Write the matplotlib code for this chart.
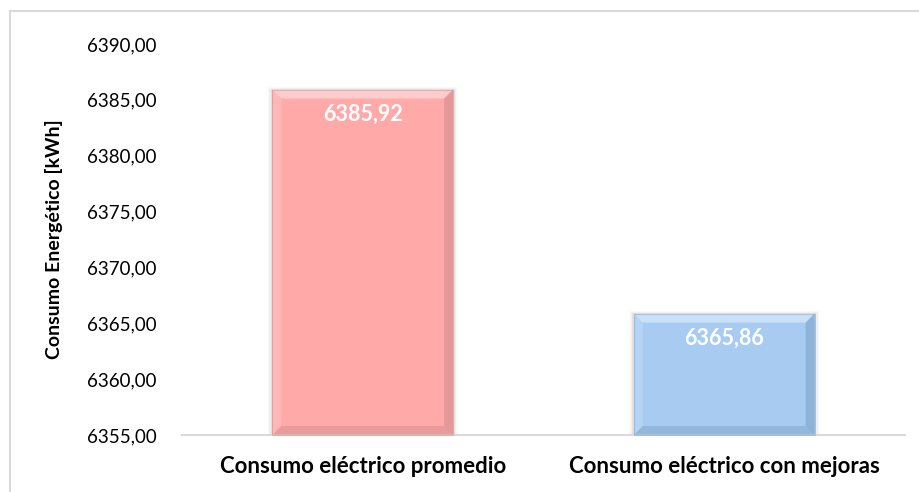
import matplotlib
matplotlib.use("Agg")
import matplotlib.pyplot as plt
from matplotlib.patches import Polygon, Rectangle
from matplotlib.transforms import IdentityTransform

categories = ["Consumo eléctrico promedio", "Consumo eléctrico con mejoras"]
values = [6385.92, 6365.86]
value_labels = ["6385,92", "6365,86"]
y_ticks = [6355, 6360, 6365, 6370, 6375, 6380, 6385, 6390]
y_tick_labels = ["6355,00", "6360,00", "6365,00", "6370,00", "6375,00", "6380,00", "6385,00", "6390,00"]
y_label = "Consumo Energético [kWh]"

bar_face = ["#FFA9A9", "#A7CBF1"]
bar_light = ["#FFD3D3", "#D0E4F9"]
bar_dark = ["#D08A8A", "#7C9FC6"]

plt.rcParams["font.family"] = ["Lato", "DejaVu Sans"]

fig = plt.figure(figsize=(9.2, 4.92), dpi=100)
ax = fig.add_axes([0.1978, 0.1159, 0.7859, 0.7947])

x = list(range(len(categories)))
bars = ax.bar(x, values, width=0.5, color=bar_face, zorder=3, linewidth=0)
ax.set_xlim(-0.5, len(categories) - 0.5)
ax.set_ylim(6355, 6390)

ax.set_yticks(y_ticks)
ax.set_yticklabels(y_tick_labels, fontsize=13.5, color="#000000")
ax.set_xticks(x)
ax.set_xticklabels(categories, fontsize=16, fontweight="bold")
ax.tick_params(axis="y", length=0, pad=18)
ax.tick_params(axis="x", length=0, pad=15)
for s in ["top", "right", "left"]:
    ax.spines[s].set_visible(False)
ax.spines["bottom"].set_color("#D9D9D9")
ax.spines["bottom"].set_linewidth(1.5)
ax.spines["bottom"].set_zorder(5)

ax.set_ylabel(y_label, fontsize=14, fontweight="bold")
ax.yaxis.set_label_coords(-0.165, 0.5)

# bevelled bar edges, drawn in pixel space
fig.canvas.draw()
bevel = 9
ident = IdentityTransform()
for i, b in enumerate(bars):
    x0, y0 = ax.transData.transform((b.get_x(), 6355))
    x1, y1 = ax.transData.transform((b.get_x() + b.get_width(), b.get_height()))
    # soft shadow
    for k, a in enumerate([0.06, 0.04, 0.025]):
        fig.patches.append(Rectangle((x0 - 1.5 - k * 1.5, y0), (x1 - x0) + 3 + k * 3, (y1 - y0) + 0.5 + k,
                                     transform=ident, facecolor="#000000", alpha=a,
                                     edgecolor="none", zorder=1))
    polys = [
        ([(x0, y1), (x1, y1), (x1 - bevel, y1 - bevel), (x0 + bevel, y1 - bevel)], bar_light[i], 0.85),
        ([(x0, y0), (x0, y1), (x0 + bevel, y1 - bevel), (x0 + bevel, y0 + bevel)], bar_light[i], 0.35),
        ([(x1, y0), (x1, y1), (x1 - bevel, y1 - bevel), (x1 - bevel, y0 + bevel)], bar_dark[i], 0.55),
        ([(x0, y0), (x1, y0), (x1 - bevel, y0 + bevel), (x0 + bevel, y0 + bevel)], bar_dark[i], 0.45),
    ]
    for pts, c, a in polys:
        fig.patches.append(Polygon(pts, closed=True, transform=ident, facecolor=c,
                                   alpha=a, edgecolor="none", zorder=4))
    fig.patches.append(Rectangle((x0, y0), x1 - x0, y1 - y0, transform=ident, fill=False,
                                 edgecolor=bar_dark[i], linewidth=0.6, alpha=0.6, zorder=4))

ax.set_zorder(2)
ax.patch.set_alpha(0)
for i, b in enumerate(bars):
    ax.annotate(value_labels[i], (b.get_x() + b.get_width() / 2, b.get_height()),
                xytext=(0, -18), textcoords="offset points", ha="center", va="center",
                color="white", fontsize=15.5, fontweight="bold", zorder=6)

# chart area border (top and left edges fall inside the image)
fig.add_artist(plt.Line2D([10 / 920, 1], [1 - 11 / 492, 1 - 11 / 492], color="#D9D9D9", linewidth=1.5))
fig.add_artist(plt.Line2D([10 / 920, 10 / 920], [0, 1 - 11 / 492], color="#D9D9D9", linewidth=1.5))

fig.savefig("out.png", dpi=100)
